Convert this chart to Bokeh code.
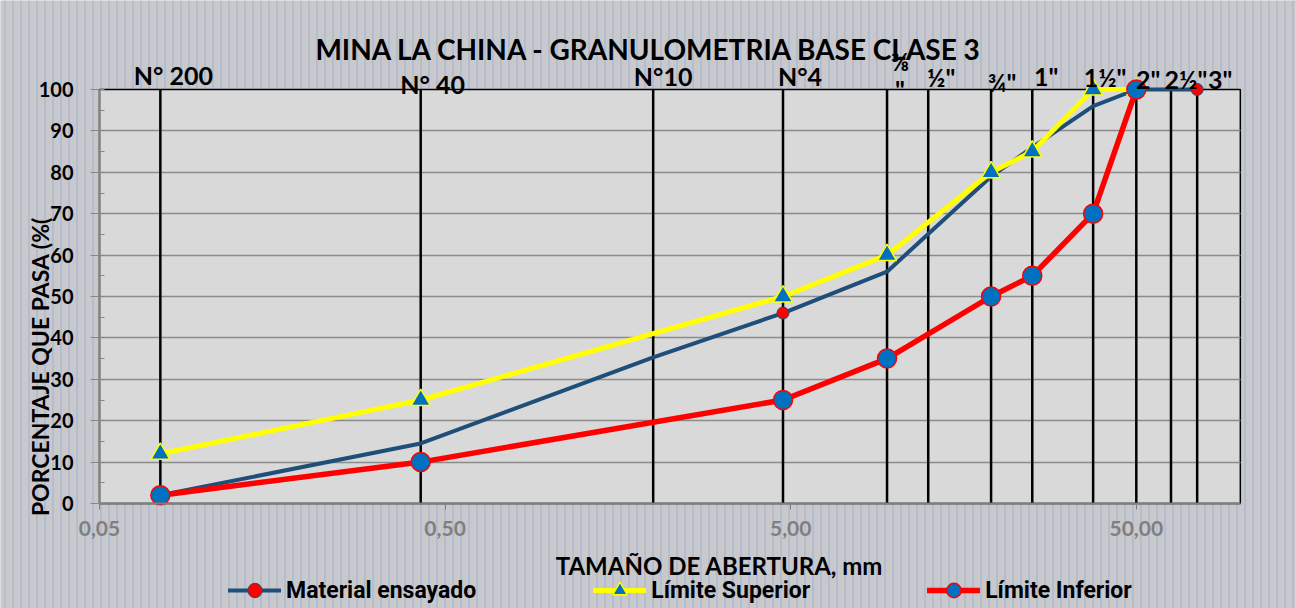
import math
from bokeh.plotting import figure
from bokeh.models import (Range1d, FixedTicker, SingleIntervalTicker, Legend,
                          LegendItem, CustomJSTickFormatter)
from bokeh.core.properties import value
from bokeh.embed import file_html
from bokeh.resources import INLINE

# ---------------- data ----------------
sieve_sizes = [0.075, 0.425, 2.0, 4.75, 9.5, 12.5, 19.0, 25.0, 37.5, 50.0, 63.0, 75.0]
sieve_labels = ["N° 200", "N° 40", "N°10", "N°4", "⅜", "½\"", "¾\"", "1\"", "1½\"", "2\"", "2½\"", "3\""]

mat_x = [0.075, 0.425, 2.0, 4.75, 9.5, 19.0, 25.0, 37.5, 50.0, 75.0]
mat_y = [2, 14.5, 35.3, 46, 56, 79, 86, 96, 100, 100]
mat_marker_x = [0.075, 4.75, 50.0, 75.0]
mat_marker_y = [2, 46, 100, 100]

sup_x = [0.075, 0.425, 4.75, 9.5, 19.0, 25.0, 37.5, 50.0]
sup_y = [12, 25, 50, 60, 80, 85, 100, 100]

inf_x = [0.075, 0.425, 4.75, 9.5, 19.0, 25.0, 37.5, 50.0]
inf_y = [2, 10, 25, 35, 50, 55, 70, 100]

x_ticks = [0.05, 0.5, 5, 50]
x_min, x_max = 0.05, 100
y_min, y_max = 0, 100

title_text = "MINA LA CHINA - GRANULOMETRIA BASE CLASE 3"
x_title = "TAMAÑO DE ABERTURA, mm"
y_title = "PORCENTAJE QUE PASA (%("
series_names = ["Material ensayado", "Límite Superior", "Límite Inferior"]

# ---------------- layout (page pixels -> data coordinates) ----------------
W, H = 1295, 608
FRAME_L, FRAME_B, DEC, PXU = 99, 503, 345.6, 4.14
def xpx(px):
    return x_min * 10 ** ((px - FRAME_L) / DEC)
def ypx(py):
    return (FRAME_B - py) / PXU

label_dx = [13, 12, 10, 17, 13, 13, 11, 14, 12, 12, 15, 23]
label_py = [74, 83, 75, 75, 60, 76, 81, 75, 76, 78, 78, 78]

FONT = "Lato"
BG = "#c9c9cb"

p = figure(width=W, height=H, x_axis_type="log",
           x_range=Range1d(xpx(0), xpx(W)), y_range=Range1d(ypx(H), ypx(0)),
           output_backend="svg", toolbar_location=None,
           min_border=0, min_border_left=0, min_border_right=0, min_border_top=0, min_border_bottom=0,
           background_fill_color=BG, border_fill_color=BG)
p.title.visible = False
p.outline_line_color = None

# striped chart background
p.quad(left=[xpx(0)], right=[xpx(W)], bottom=[ypx(H)], top=[ypx(0)],
       fill_color=BG, line_color=None, hatch_pattern="|", hatch_color="#b2bdd2",
       hatch_scale=8, hatch_weight=2, level="image")
# plot area
p.quad(left=[x_min], right=[x_max], bottom=[y_min], top=[y_max],
       fill_color="#d9d9d9", line_color="black", line_width=1.5, level="image")

# axes placed on the plot area
p.xaxis.fixed_location = y_min
p.yaxis.fixed_location = x_min
p.xaxis.bounds = (x_min, x_max)
p.yaxis.bounds = (y_min, y_max)

p.xaxis.ticker = FixedTicker(ticks=x_ticks)
p.xaxis.formatter = CustomJSTickFormatter(code="return tick.toFixed(2).replace('.', ',');")
p.xaxis.minor_tick_line_color = None
p.xaxis.major_tick_out = 6
p.xaxis.major_tick_in = 0
p.xaxis.axis_line_color = "#7f7f7f"
p.xaxis.axis_line_width = 2
p.xaxis.major_tick_line_color = "#7f7f7f"
p.xaxis.major_label_text_font = FONT
p.xaxis.major_label_text_font_style = "bold"
p.xaxis.major_label_text_font_size = "21px"
p.xaxis.major_label_text_color = "#7f7f7f"
p.xaxis.major_label_standoff = 11

p.yaxis.ticker = SingleIntervalTicker(interval=10, num_minor_ticks=2)
p.yaxis.major_tick_out = 9
p.yaxis.major_tick_in = 0
p.yaxis.minor_tick_in = 5
p.yaxis.minor_tick_out = 0
p.yaxis.axis_line_color = "#868686"
p.yaxis.axis_line_width = 2
p.yaxis.major_tick_line_color = "#868686"
p.yaxis.minor_tick_line_color = "#868686"
p.yaxis.major_label_text_font = FONT
p.yaxis.major_label_text_font_style = "bold"
p.yaxis.major_label_text_font_size = "20px"
p.yaxis.major_label_text_color = "black"
p.yaxis.major_label_standoff = 17

p.xgrid.grid_line_color = None
p.ygrid.grid_line_color = "#8c8c8c"
p.ygrid.grid_line_width = 1.5
p.ygrid.bounds = (y_min + 10, y_max - 10)
try:
    p.ygrid.cross_bounds = (x_min, x_max)
except Exception:
    p.ygrid.grid_line_color = None
    gy = list(range(y_min + 10, y_max, 10))
    p.segment(x0=[x_min] * len(gy), x1=[x_max] * len(gy), y0=gy, y1=gy,
              line_color="#8c8c8c", line_width=1.5)

# sieve lines
p.segment(x0=sieve_sizes, x1=sieve_sizes, y0=[y_min] * len(sieve_sizes), y1=[y_max] * len(sieve_sizes),
          line_color="black", line_width=2.5)

# series
mat_line = p.line(mat_x, mat_y, line_color="#1f4e79", line_width=4, line_join="round", line_cap="round")
mat_mk = p.scatter(mat_marker_x, mat_marker_y, marker="circle", size=12,
                   fill_color="#ff0000", line_color="#1f4e79", line_width=1)

sup_line = p.line(sup_x, sup_y, line_color="#ffff00", line_width=5, line_join="round", line_cap="round")
sup_mk = p.scatter(sup_x, sup_y, marker="triangle", size=19,
                   fill_color="#0070c0", line_color="#ffff00", line_width=1.5)

inf_line = p.line(inf_x, inf_y, line_color="#ff0000", line_width=5.5, line_join="round", line_cap="round")
inf_mk = p.scatter(inf_x, inf_y, marker="circle", size=19,
                   fill_color="#0070c0", line_color="#ff0000", line_width=1.5)

# top sieve labels
tl_text, tl_x, tl_y, tl_dx = [], [], [], []
for s, t, dx, py in zip(sieve_sizes, sieve_labels, label_dx, label_py):
    tl_text.append(t); tl_x.append(s); tl_y.append(ypx(py)); tl_dx.append(dx)
    if t == "⅜":
        tl_text.append("\""); tl_x.append(s); tl_y.append(ypx(88)); tl_dx.append(dx)
p.text(x=tl_x, y=tl_y, text=tl_text, x_offset=tl_dx, text_align="center", text_baseline="middle",
       text_font=value(FONT), text_font_style="bold", text_font_size="25px", text_color="black")

# title and axis titles
p.text(x=[xpx(649)], y=[ypx(48)], text=[title_text], text_align="center", text_baseline="middle",
       text_font=value(FONT), text_font_style="bold", text_font_size="28px", text_color="black")
p.text(x=[xpx(719)], y=[ypx(565)], text=[x_title], text_align="center", text_baseline="middle",
       text_font=value(FONT), text_font_style="bold", text_font_size="24px", text_color="black")
p.text(x=[xpx(39)], y=[ypx(366)], text=[y_title], angle=math.pi / 2, text_align="center",
       text_baseline="middle", text_font=value(FONT), text_font_style="bold",
       text_font_size="23px", text_color="black")

legend = Legend(items=[LegendItem(label=series_names[0], renderers=[mat_line, mat_mk]),
                       LegendItem(label=series_names[1], renderers=[sup_line, sup_mk]),
                       LegendItem(label=series_names[2], renderers=[inf_line, inf_mk])],
                location=(228, 0), orientation="horizontal",
                glyph_width=53, glyph_height=36, label_height=36, label_standoff=5, spacing=117,
                padding=0, margin=0, background_fill_alpha=0, border_line_color=None,
                label_text_font="Roboto", label_text_font_style="bold",
                label_text_font_size="23px", label_text_color="black")
p.add_layout(legend, "center")

open("out.html", "w").write(file_html(p, INLINE))
